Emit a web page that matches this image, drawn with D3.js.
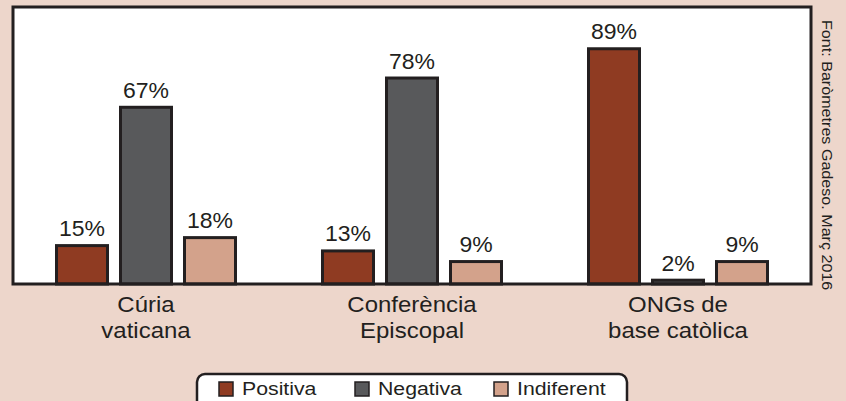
<!DOCTYPE html>
<html><head><meta charset="utf-8">
<script src="https://cdn.jsdelivr.net/npm/d3@7/dist/d3.min.js"></script>
<style>body{margin:0;background:#edd6cb;}svg{display:block;font-family:"Liberation Sans",Arial,sans-serif;}</style>
</head><body>
<script>
const categories = [["Cúria","vaticana"],["Conferència","Episcopal"],["ONGs de","base catòlica"]];
const series = ["Positiva","Negativa","Indiferent"];
const positiva = [15,13,89];
const negativa = [67,78,2];
const indiferent = [18,9,9];
const colors = ["#8f3b22","#58595b","#d3a28b"];
const source = "Font: Baròmetres Gadeso. Març 2016";

(function(){
const W=846,H=401;
const svg=d3.select("body").append("svg").attr("width",W).attr("height",H);
svg.append("rect").attr("width",W).attr("height",H).attr("fill","#edd6cb");
const pL=13,pR=811,pT=7,pB=284;
svg.append("rect").attr("x",pL).attr("y",pT).attr("width",pR-pL).attr("height",pB-pT).attr("fill","#fff");
const x0=d3.scaleBand().domain(d3.range(categories.length)).range([pL,pR]).paddingInner(0);
const groupW=182;
const x1=d3.scaleBand().domain(series).range([0,groupW]).paddingInner(10/64).paddingOuter(0);
const y=d3.scaleLinear().domain([0,100]).range([pB,18]);
const vals=[positiva,negativa,indiferent];
const data=[];
categories.forEach((c,i)=>series.forEach((s,j)=>data.push({i,s,j,v:vals[j][i]})));
const off=(x0.bandwidth()-groupW)/2;
const bx=d=>x0(d.i)+off+x1(d.s);
const g=svg.append("g");
g.selectAll("rect.bar").data(data).join("rect").attr("class","bar")
  .attr("x",d=>bx(d)+1.5)
  .attr("y",d=>y(d.v)+1.5)
  .attr("width",x1.bandwidth()-3)
  .attr("height",d=>Math.max(0,pB-y(d.v)-1.5))
  .attr("fill",d=>colors[d.j]).attr("stroke","#231f20").attr("stroke-width",3);
g.selectAll("text.val").data(data).join("text").attr("class","val")
  .attr("transform",d=>`translate(${bx(d)+x1.bandwidth()/2},${y(d.v)-8}) scale(1.07,1)`)
  .attr("text-anchor","middle").attr("font-size",21.5).attr("fill","#231f20")
  .text(d=>d.v+"%");
svg.append("rect").attr("x",pL).attr("y",pT).attr("width",pR-pL).attr("height",pB-pT)
  .attr("fill","none").attr("stroke","#231f20").attr("stroke-width",3);
const cl=svg.append("g");
categories.forEach((c,i)=>{
  c.forEach((line,k)=>{
    cl.append("text").attr("transform",`translate(${x0(i)+x0.bandwidth()/2},${312+k*26}) scale(1.09,1)`)
      .attr("text-anchor","middle").attr("font-size",22).attr("fill","#231f20").text(line);
  });
});
svg.append("text").attr("transform","translate(822,20) rotate(90) scale(1.04,1)")
  .attr("font-size",15.5).attr("fill","#231f20").text(source);
const lg=svg.append("g");
lg.append("rect").attr("x",197).attr("y",374).attr("width",430).attr("height",40).attr("rx",8)
  .attr("fill","#fff").attr("stroke","#231f20").attr("stroke-width",2.5);
const lx=[219,355,494];
series.forEach((s,j)=>{
  lg.append("rect").attr("x",lx[j]).attr("y",382).attr("width",14).attr("height",14)
    .attr("fill",colors[j]).attr("stroke","#231f20").attr("stroke-width",1.5);
  lg.append("text").attr("transform",`translate(${lx[j]+23},395) scale(1.15,1)`)
    .attr("font-size",18.5).attr("fill","#231f20").text(s);
});
})();
</script>
</body></html>
